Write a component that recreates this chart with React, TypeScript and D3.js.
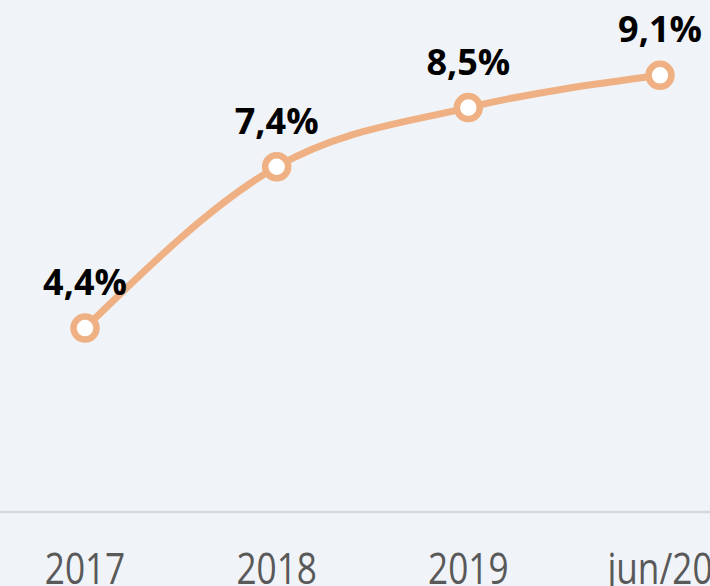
import React from "react";
import * as d3 from "d3";

const categories = ["2017", "2018", "2019", "jun/20"];
const values = [4.4, 7.4, 8.5, 9.1];
const valueLabels = ["4,4%", "7,4%", "8,5%", "9,1%"];

const W = 710;
const H = 586;

export default function App() {
  const x = d3.scalePoint<string>().domain(categories).range([85, 660]);
  const y = d3.scaleLinear().domain([1, 10.5]).range([511, 0]);
  const line = d3
    .line<number>()
    .x((_, i) => x(categories[i]) as number)
    .y((d) => y(d))
    .curve(d3.curveMonotoneX);

  return (
    <svg
      width={W}
      height={H}
      style={{ position: "absolute", left: 0, top: 0, display: "block" }}
    >
      <rect x={0} y={0} width={W} height={H} fill="#f0f3f7" />
      <line x1={0} x2={W} y1={512} y2={512} stroke="#d8d9db" strokeWidth={2.5} />
      {categories.map((c) => (
        <text
          key={c}
          transform={`translate(${x(c)},${583.5}) scale(0.8,1)`}
          textAnchor="middle"
          fontFamily="'Open Sans', sans-serif"
          fontSize={44}
          fill="#595959"
        >
          {c}
        </text>
      ))}
      <path
        d={line(values) || ""}
        fill="none"
        stroke="#efb183"
        strokeWidth={7}
        strokeLinecap="round"
      />
      {values.map((v, i) => (
        <circle
          key={i}
          cx={x(categories[i])}
          cy={y(v)}
          r={11.5}
          fill="#ffffff"
          stroke="#efb183"
          strokeWidth={6.5}
        />
      ))}
      {values.map((v, i) => (
        <text
          key={"l" + i}
          x={x(categories[i])}
          y={y(v) - 33}
          textAnchor="middle"
          fontFamily="'Open Sans', sans-serif"
          fontWeight={700}
          fontSize={36}
          fill="#000000"
        >
          {valueLabels[i]}
        </text>
      ))}
    </svg>
  );
}
